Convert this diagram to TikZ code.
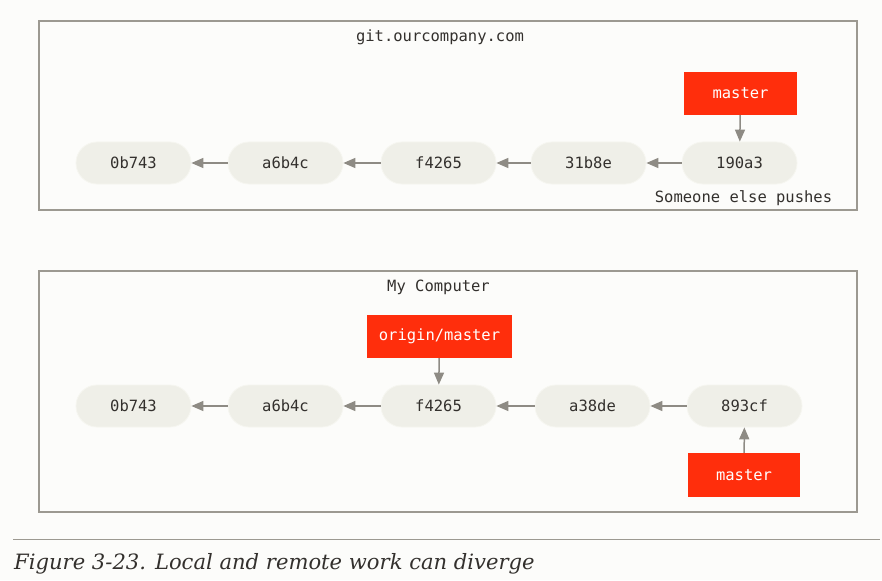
\documentclass[tikz,border=0pt]{standalone}
\usepackage{fontspec}
\setmonofont{DejaVu Sans Mono}
\newfontfamily\capfont{DejaVu Serif Italic}
\usetikzlibrary{arrows.meta}
\definecolor{bgc}{HTML}{FCFCFA}
\definecolor{commitfill}{HTML}{EFEFE8}
\definecolor{commitline}{HTML}{F6F6F0}
\definecolor{redc}{HTML}{FF2E0C}
\definecolor{arrowc}{HTML}{8E8B84}
\definecolor{framec}{HTML}{9C9991}
\definecolor{txtc}{HTML}{33302D}
\tikzset{
  commit/.style={draw=commitline, line width=0.8pt, fill=commitfill, rounded corners=21pt,
    minimum width=115pt, minimum height=42pt, inner sep=0pt, text=txtc,
    font=\fontsize{15.5}{18}\ttfamily},
  branch/.style={fill=redc, minimum height=43pt, inner sep=0pt, text=white,
    font=\fontsize{15.5}{18}\ttfamily},
  frame/.style={draw=framec, line width=1.2pt, fill=bgc},
  lbl/.style={text=txtc, font=\fontsize{15.5}{18}\ttfamily, inner sep=0pt},
  link/.style={draw=arrowc, line width=1.5pt, -{Triangle[length=12pt,width=10pt]}},
}
\begin{document}
\begin{tikzpicture}[x=1pt,y=-1pt]
\useasboundingbox[fill=bgc] (0,0) rectangle (882,580);
% frames
\draw[frame] (39,21) rectangle (857,210);
\draw[frame] (39,271) rectangle (857,512);
% top
\node[lbl] (srv) at (440,37.5) {git.ourcompany.com};
\node[commit] (t1) at (133.5,163) {0b743};
\node[commit] (t2) at (285.5,163) {a6b4c};
\node[commit] (t3) at (438.5,163) {f4265};
\node[commit] (t4) at (588.5,163) {31b8e};
\node[commit] (t5) at (739.5,163) {190a3};
\node[branch, minimum width=113pt] (tm) at (740.5,93.5) {master};
\node[lbl] (note) at (743.5,198.5) {Someone else pushes};
\draw[link] (t2) -- (t1);
\draw[link] (t3) -- (t2);
\draw[link] (t4) -- (t3);
\draw[link] (t5) -- (t4);
\draw[link] (tm) -- (t5);
% bottom
\node[lbl] (pc) at (438.5,287.5) {My Computer};
\node[commit] (b1) at (133.5,406) {0b743};
\node[commit] (b2) at (285.5,406) {a6b4c};
\node[commit] (b3) at (438.5,406) {f4265};
\node[commit] (b4) at (592.5,406) {a38de};
\node[commit] (b5) at (744.5,406) {893cf};
\node[branch, minimum width=145pt] (om) at (439.5,336.5) {origin/master};
\node[branch, minimum width=112pt, minimum height=44pt] (bm) at (744,475) {master};
\draw[link] (b2) -- (b1);
\draw[link] (b3) -- (b2);
\draw[link] (b4) -- (b3);
\draw[link] (b5) -- (b4);
\draw[link] (om) -- (b3);
\draw[link] (bm) -- (b5);
% caption
\coordinate (ruleL) at (13,539);
\coordinate (ruleR) at (880,539);
\draw[draw=framec, line width=1pt] (ruleL) -- (ruleR);
\node[anchor=base west, inner sep=0pt, text=txtc, font=\capfont\fontsize{21.1}{25}\selectfont] (cap) at (14,569) {Figure 3-23. Local and remote work can diverge};
\end{tikzpicture}
\end{document}
